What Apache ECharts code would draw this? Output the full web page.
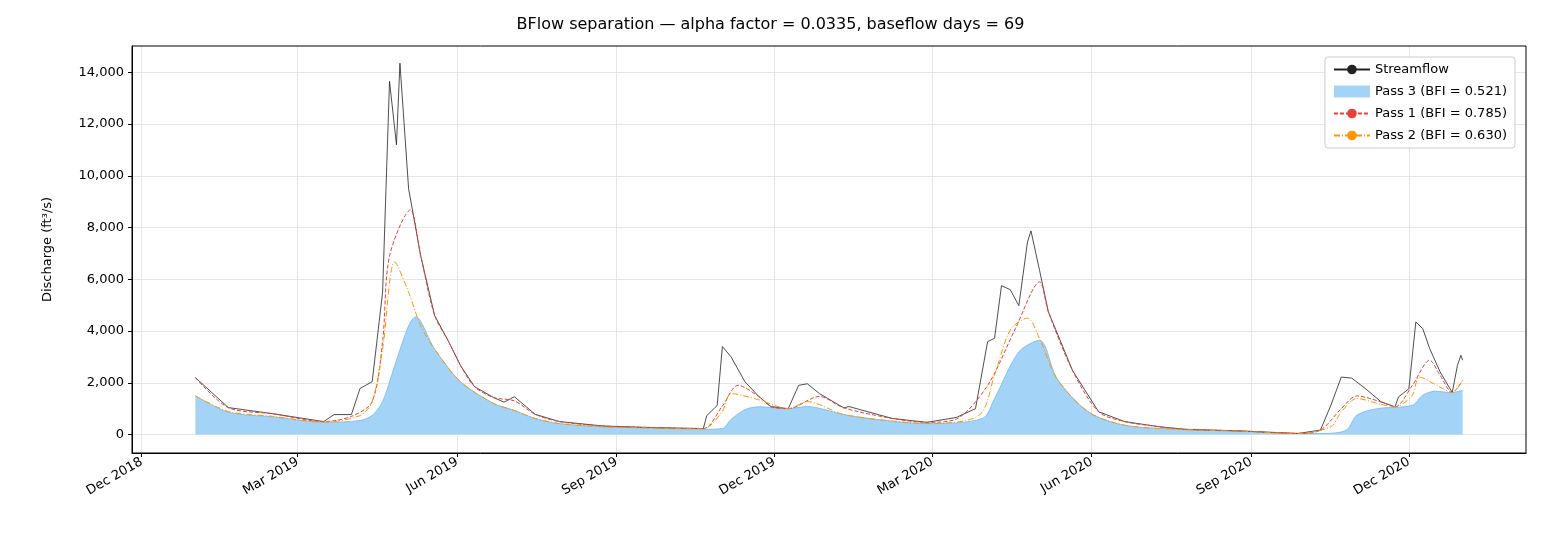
<!DOCTYPE html>
<html><head><meta charset="utf-8">
<script src="https://cdn.jsdelivr.net/npm/echarts@6/dist/echarts.min.js"></script>
<style>html,body{margin:0;background:#fff}#c{width:1541px;height:551px}</style>
</head><body><div id="c"></div>
<script>
const streamflow = [
 ['2019-01-01',2200],['2019-01-20',1040],['2019-02-15',800],['2019-03-16',500],['2019-03-22',770],['2019-04-01',770],
 ['2019-04-06',1780],['2019-04-13',2040],['2019-04-19',5500],['2019-04-23',13650],['2019-04-27',11200],['2019-04-29',14350],
 ['2019-05-04',9500],['2019-05-11',6900],['2019-05-19',4600],['2019-05-27',3600],['2019-06-03',2660],['2019-06-11',1850],
 ['2019-06-22',1430],['2019-06-28',1250],['2019-07-04',1460],['2019-07-16',780],['2019-07-30',500],['2019-08-24',330],
 ['2019-09-15',280],['2019-10-05',250],['2019-10-21',230],['2019-10-23',730],['2019-10-29',1120],['2019-11-01',3400],
 ['2019-11-06',3000],['2019-11-14',2040],['2019-11-22',1470],['2019-11-29',1080],['2019-12-09',1000],['2019-12-15',1900],
 ['2019-12-20',1960],['2019-12-27',1580],['2020-01-10',1030],['2020-01-13',1080],['2020-02-07',620],['2020-02-27',470],
 ['2020-03-15',660],['2020-03-26',1000],['2020-04-02',3590],['2020-04-06',3720],['2020-04-10',5750],['2020-04-15',5600],
 ['2020-04-20',4980],['2020-04-25',7440],['2020-04-27',7870],['2020-05-02',6330],['2020-05-07',4750],['2020-05-21',2470],
 ['2020-06-05',880],['2020-06-20',500],['2020-07-10',300],['2020-07-25',200],['2020-08-25',140],['2020-09-28',40],
 ['2020-10-11',170],['2020-10-17',1130],['2020-10-23',2220],['2020-10-29',2180],['2020-11-06',1770],['2020-11-15',1260],
 ['2020-11-23',1070],['2020-11-25',1450],['2020-12-01',1770],['2020-12-05',4350],['2020-12-09',4090],['2020-12-13',3320],
 ['2020-12-19',2420],['2020-12-26',1620],['2020-12-29',2670],['2020-12-31',3060],['2021-01-01',2870]
];
const pass1 = [
 ['2019-01-01',2200],['2019-01-20',1040],['2019-02-15',800],['2019-03-16',500],['2019-04-01',700],['2019-04-13',1270],
 ['2019-04-19',3600],['2019-04-23',6900],['2019-05-05',8680],['2019-05-11',6900],['2019-05-19',4600],['2019-05-27',3600],
 ['2019-06-03',2660],['2019-06-11',1850],['2019-06-22',1430],['2019-07-04',1300],['2019-07-16',780],['2019-07-30',500],
 ['2019-08-24',330],['2019-09-15',280],['2019-10-21',230],['2019-11-01',1100],['2019-11-10',1900],['2019-11-22',1470],
 ['2019-11-29',1080],['2019-12-09',1000],['2019-12-27',1470],['2020-01-10',1030],['2020-02-07',620],['2020-02-27',470],
 ['2020-03-15',600],['2020-04-02',1900],['2020-04-18',4090],['2020-05-02',5900],['2020-05-07',4750],['2020-05-21',2470],
 ['2020-06-05',880],['2020-06-20',500],['2020-07-10',300],['2020-07-25',200],['2020-08-25',140],['2020-09-28',40],
 ['2020-10-11',170],['2020-10-23',1000],['2020-11-01',1490],['2020-11-15',1260],['2020-11-23',1070],['2020-12-03',1900],
 ['2020-12-13',2870],['2020-12-19',2290],['2020-12-26',1620],['2021-01-01',2100]
];
const pass2 = [
 ['2019-01-01',1500],['2019-01-20',890],['2019-02-15',700],['2019-03-16',480],['2019-04-06',730],['2019-04-13',1270],
 ['2019-04-19',3300],['2019-04-26',6670],['2019-05-04',5500],['2019-05-11',4200],['2019-05-19',3300],['2019-06-03',2040],
 ['2019-06-22',1200],['2019-07-04',930],['2019-07-16',620],['2019-07-30',420],['2019-08-24',300],['2019-09-15',260],
 ['2019-10-21',220],['2019-11-01',900],['2019-11-06',1580],['2019-11-22',1340],['2019-12-09',1000],['2019-12-20',1270],
 ['2020-01-10',770],['2020-02-07',520],['2020-02-27',430],['2020-03-28',740],['2020-04-06',2300],['2020-04-15',4030],
 ['2020-04-25',4500],['2020-05-02',3700],['2020-05-12',2160],['2020-05-30',880],['2020-06-20',360],['2020-07-25',190],
 ['2020-08-25',130],['2020-09-28',40],['2020-10-17',300],['2020-10-23',870],['2020-11-01',1390],['2020-11-15',1160],
 ['2020-11-23',1070],['2020-12-03',1520],['2020-12-07',2220],['2020-12-19',1830],['2020-12-26',1620],['2021-01-01',2100]
];
const pass3 = [
 ['2019-01-01',1500],['2019-01-20',860],['2019-02-15',680],['2019-03-16',470],['2019-04-06',540],['2019-04-13',740],
 ['2019-04-19',1270],['2019-04-26',2660],['2019-05-04',4200],['2019-05-08',4550],['2019-05-19',3300],['2019-06-03',2040],
 ['2019-06-22',1200],['2019-07-04',930],['2019-07-16',620],['2019-07-30',420],['2019-08-24',300],['2019-09-15',260],
 ['2019-10-21',200],['2019-11-01',230],['2019-11-06',580],['2019-11-14',960],['2019-11-22',1070],['2019-12-09',1000],
 ['2019-12-20',1080],['2020-01-10',770],['2020-02-07',510],['2020-02-27',420],['2020-03-30',620],['2020-04-06',1390],
 ['2020-04-20',3190],['2020-05-02',3640],['2020-05-12',2160],['2020-05-30',880],['2020-06-20',360],['2020-07-25',190],
 ['2020-08-25',130],['2020-09-28',40],['2020-10-13',40],['2020-10-26',170],['2020-11-01',750],['2020-11-13',1000],
 ['2020-12-03',1130],['2020-12-09',1520],['2020-12-16',1670],['2020-12-26',1620],['2021-01-01',1710]
];
const xTicks = ['2018-12-01','2019-03-01','2019-06-01','2019-09-01','2019-12-01','2020-03-01','2020-06-01','2020-09-01','2020-12-01'];
const yTicks = [0,2000,4000,6000,8000,10000,12000,14000];
const monthNames = ['Jan','Feb','Mar','Apr','May','Jun','Jul','Aug','Sep','Oct','Nov','Dec'];

const toMs = arr => arr.map(p => [Date.parse(p[0]), p[1]]);
const xMin = Date.parse('2019-01-01') - 36.55*86400000;
const xMax = Date.parse('2021-01-01') + 36.55*86400000;
const xTickMs = xTicks.map(d => Date.parse(d));
const gridColor = '#e6e6e6';
const font = 'DejaVu Sans';

const chart = echarts.init(document.getElementById('c'));
chart.setOption({
  animation:false,
  textStyle:{fontFamily:font},
  title:{text:'BFlow separation — alpha factor = 0.0335, baseflow days = 69',left:'center',top:12,
    textStyle:{fontSize:16,fontWeight:'normal',color:'#000',fontFamily:font}},
  grid:{left:132,right:15,top:46,bottom:98},
  legend:{right:26,top:57,orient:'vertical',itemGap:9,itemWidth:36,itemHeight:12,
    backgroundColor:'#fff',borderColor:'#ccc',borderWidth:1,borderRadius:3,padding:[6,8,6,8],
    textStyle:{fontSize:13,color:'#000',fontFamily:font},
    data:[{name:'Streamflow'},{name:'Pass 3 (BFI = 0.521)',icon:'rect'},
          {name:'Pass 1 (BFI = 0.785)'},{name:'Pass 2 (BFI = 0.630)'}]},
  xAxis:{type:'value',min:xMin,max:xMax,
    axisLine:{onZero:false,lineStyle:{color:'#000'}},
    axisTick:{customValues:xTickMs,length:4,lineStyle:{color:'#000'}},
    axisLabel:{customValues:xTickMs,rotate:30,fontSize:13,color:'#000',margin:8,
      formatter:v=>{const d=new Date(v);return monthNames[d.getUTCMonth()]+' '+d.getUTCFullYear();}},
    splitLine:{show:false}},
  yAxis:{type:'value',min:-715,max:15015,
    name:'Discharge (ft³/s)',nameLocation:'middle',nameGap:78,nameTextStyle:{fontSize:13,color:'#000'},
    axisLine:{show:true,lineStyle:{color:'#000'}},
    axisTick:{show:true,customValues:yTicks,length:4,lineStyle:{color:'#000'}},
    axisLabel:{customValues:yTicks,fontSize:13,color:'#000'},
    splitLine:{show:false}},
  series:[
    {name:'Pass 3 (BFI = 0.521)',type:'line',data:toMs(pass3),smooth:0.3,symbol:'none',z:1,
     lineStyle:{color:'#84c1f0',width:1},itemStyle:{color:'#a3d3f6'},areaStyle:{color:'#a3d3f6',opacity:1,origin:0},
     markLine:{silent:true,symbol:'none',label:{show:false},z:0,
       lineStyle:{color:gridColor,width:1,type:'solid'},
       data:xTickMs.map(t=>({xAxis:t})).concat(yTicks.map(v=>({yAxis:v})))}},
    {name:'Streamflow',type:'line',data:toMs(streamflow),symbol:'none',z:3,lineStyle:{color:'#222',width:0.8},itemStyle:{color:'#222'}},
    {name:'Pass 1 (BFI = 0.785)',type:'line',data:toMs(pass1),smooth:0.3,symbol:'none',z:4,lineStyle:{color:'#e8413a',width:1,type:[4,2]},itemStyle:{color:'#e8413a'}},
    {name:'Pass 2 (BFI = 0.630)',type:'line',data:toMs(pass2),smooth:0.3,symbol:'none',z:5,lineStyle:{color:'#ff9500',width:1,type:[6,2,1,2]},itemStyle:{color:'#ff9500'}}
  ],
  graphic:[{type:'rect',shape:{x:132,y:46,width:1394,height:407},style:{fill:'none',stroke:'#000',lineWidth:1},silent:true,z:10}]
});
</script></body></html>
